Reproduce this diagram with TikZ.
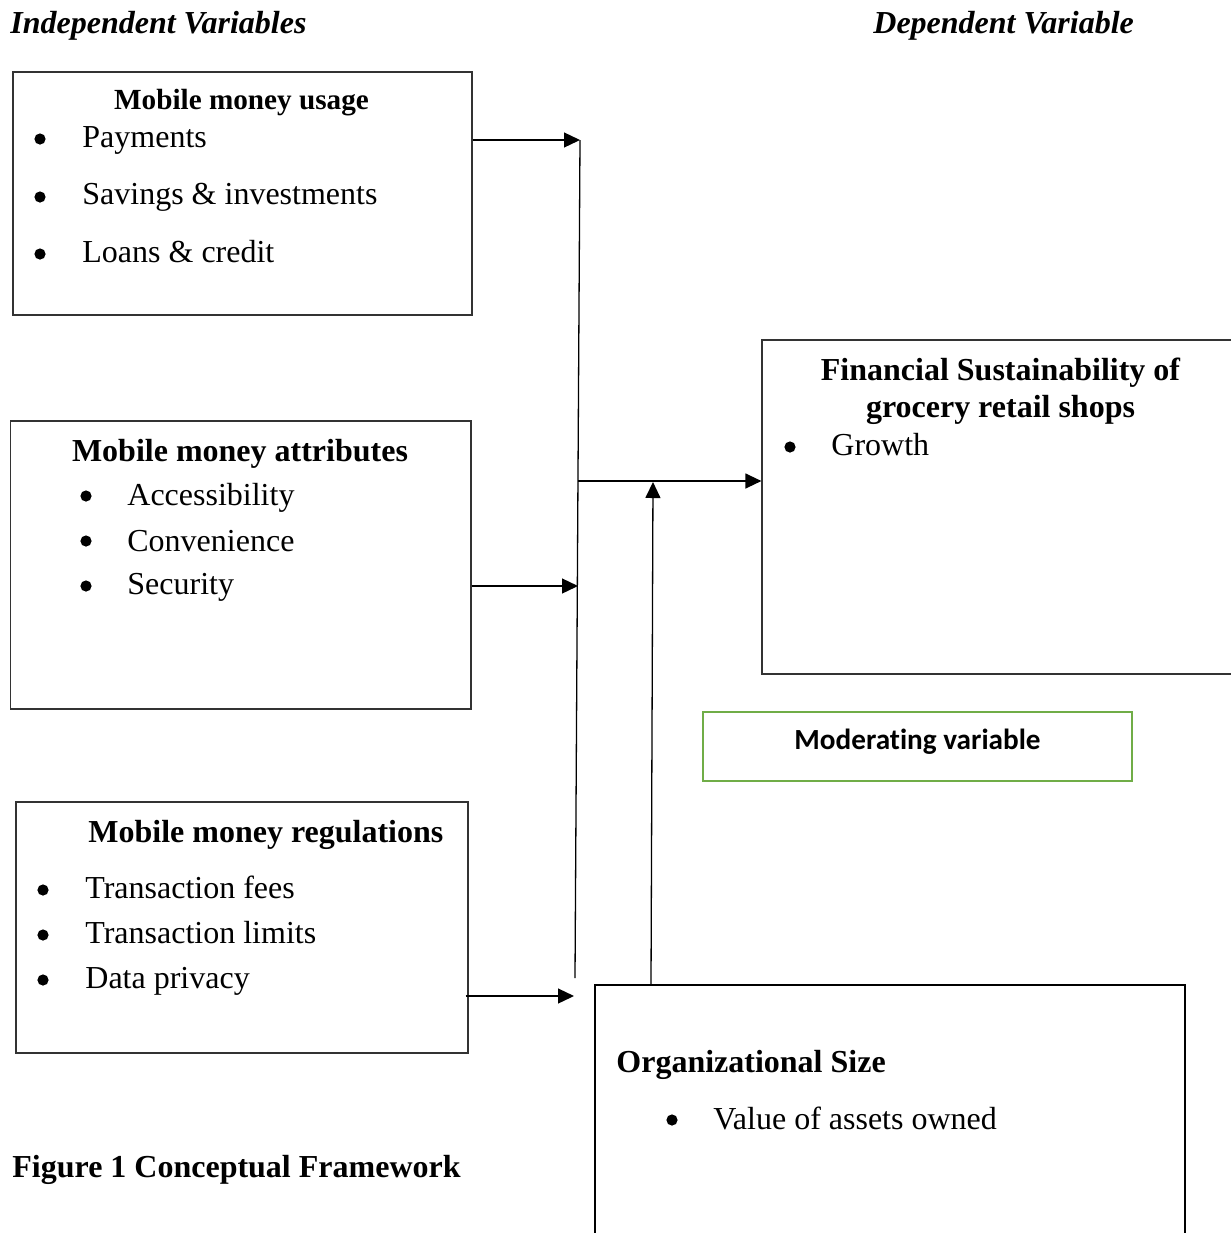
\documentclass[tikz,border=0pt]{standalone}
\usepackage{fontspec}
\setmainfont{Liberation Serif}
\newfontfamily\calibri[Ligatures=NoCommon]{Carlito}
\usetikzlibrary{arrows.meta,fit}
\definecolor{mgreen}{HTML}{70AD47}
\begin{document}
\begin{tikzpicture}[x=0.5pt,y=-0.5pt,
  box/.style={draw=black!80, line width=0.6pt, inner sep=0pt},
  txt/.style={inner sep=0pt, anchor=base west, font=\fontsize{16}{19}\selectfont},
  ttl/.style={inner sep=0pt, anchor=base, font=\fontsize{16}{19}\selectfont\bfseries},
  dot/.style={circle, fill=black, inner sep=0pt, minimum size=5.6pt},
  conn/.style={line width=0.65pt, black},
  arr/.style={conn, -{Triangle[length=8pt,width=7.5pt]}}]
\useasboundingbox (0,0) rectangle (1231,1233);
\clip (0,0) rectangle (1231,1233);

% headers
\node[txt, font=\fontsize{16}{19}\selectfont\bfseries\itshape] (hind) at (10,33) {Independent Variables};
\node[txt, font=\fontsize{16}{19}\selectfont\bfseries\itshape] (hdep) at (873,33) {Dependent Variable};

% box 1: usage
\node[box, fit={(13,72) (472,315)}] (usage) {};
\node[ttl, font=\fontsize{14.6}{17}\selectfont\bfseries] (usaget) at (241.5,109) {Mobile money usage};
\node[dot] (u1d) at (40,139) {};
\node[txt] (u1) at (82,147) {Payments};
\node[dot] (u2d) at (40,197) {};
\node[txt] (u2) at (82,204) {Savings \& investments};
\node[dot] (u3d) at (40,254) {};
\node[txt] (u3) at (82,262) {Loans \& credit};

% box 2: attributes
\node[box, fit={(10.5,421) (471,709)}] (attr) {};
\node[ttl] (attrt) at (240,461) {Mobile money attributes};
\node[dot] (a1d) at (86,496) {};
\node[txt] (a1) at (127,505) {Accessibility};
\node[dot] (a2d) at (86,541) {};
\node[txt] (a2) at (127,551) {Convenience};
\node[dot] (a3d) at (86,586) {};
\node[txt] (a3) at (127,594) {Security};

% box 3: regulations
\node[box, fit={(16,802) (468,1053)}] (reg) {};
\node[txt, font=\fontsize{16}{19}\selectfont\bfseries] (regt) at (88,842) {Mobile money regulations};
\node[dot] (r1d) at (43,890) {};
\node[txt] (r1) at (85,898) {Transaction fees};
\node[dot] (r2d) at (43,935) {};
\node[txt] (r2) at (85,943) {Transaction limits};
\node[dot] (r3d) at (43,980) {};
\node[txt] (r3) at (85,988) {Data privacy};

% caption
\node[txt, font=\fontsize{16}{19}\selectfont\bfseries] (cap) at (12,1177) {Figure 1 Conceptual Framework};

% dependent box
\node[box, fit={(762,340) (1245,674)}] (fin) {};
\node[ttl] (fint1) at (1000.5,380) {Financial Sustainability of};
\node[ttl] (fint2) at (1000.5,417) {grocery retail shops};
\node[dot] (f1d) at (790,447) {};
\node[txt] (f1) at (831,455) {Growth};

% moderating label
\node[draw=mgreen, line width=1.25pt, inner sep=0pt, fit={(703,712) (1132,781)}] (mod) {};
\node[inner sep=0pt, anchor=base, font=\calibri\fontsize{14.6}{17}\selectfont\bfseries] (modt) at (917.5,749) {Moderating variable};

% organisational size box
\node[draw=black, line width=1pt, inner sep=0pt, fit={(595,985) (1185,1260)}] (org) {};
\node[txt, font=\fontsize{16}{19}\selectfont\bfseries] (orgt) at (616,1072) {Organizational Size};
\node[dot] (o1d) at (672,1120) {};
\node[txt] (o1) at (713,1129) {Value of assets owned};

% connectors
\coordinate (vtop) at (580,140);
\coordinate (vbot) at (575,978);
\coordinate (j2) at (578,586);
\coordinate (j3) at (574,996);
\coordinate (mid) at (578,481);
\coordinate (orgtop) at (651,985);
\coordinate (hit) at (653,482);

\draw[conn] (vtop) -- (vbot);
\draw[arr] (usage.east |- vtop) -- (vtop);
\draw[arr] (attr.east |- j2) -- (j2);
\draw[arr] ([xshift=-1.5pt]reg.east |- j3) -- (j3);
\draw[arr] (mid) -- (fin.west |- mid);
\draw[arr] (orgtop) -- (hit);
\end{tikzpicture}
\end{document}
